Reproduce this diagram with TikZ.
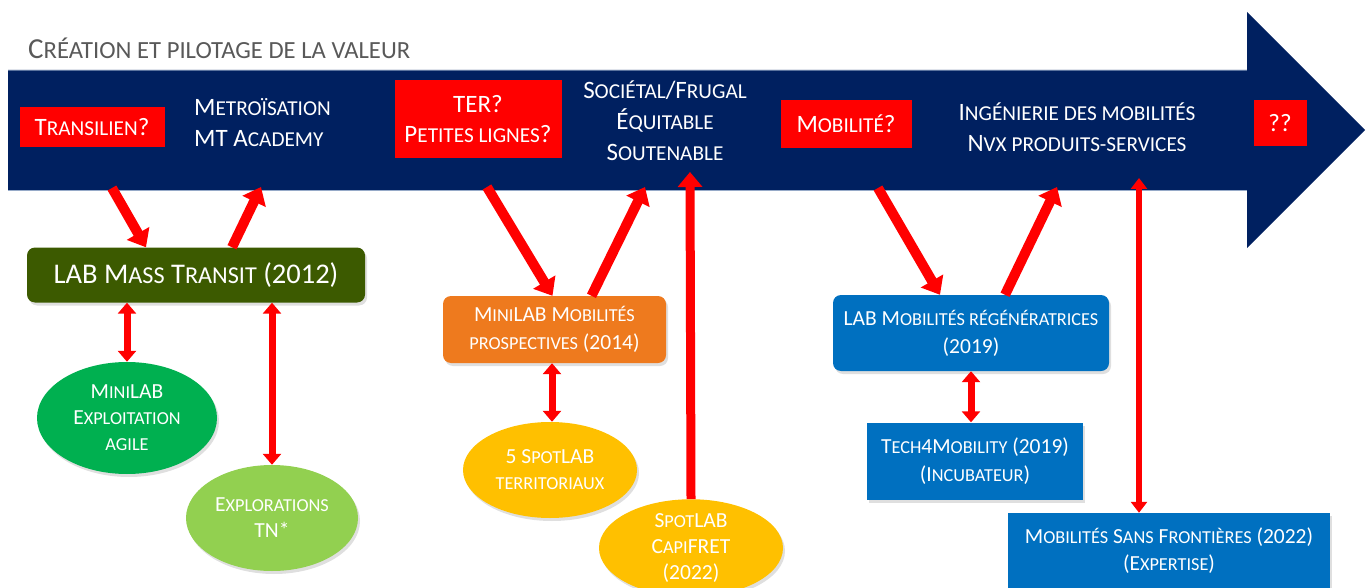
\documentclass[tikz,border=0pt]{standalone}
\usepackage{fontspec}
\setmainfont{Carlito}
\newfontfamily\scf{Carlito}[Scale=0.85]
\newcommand\lc[1]{{\scf\MakeUppercase{#1}}}
\newcommand\fsz[2]{\fontsize{#1}{#2}\selectfont}
\usetikzlibrary{arrows.meta,shapes.geometric,calc,shadows}
\definecolor{navy}{RGB}{0,32,96}
\definecolor{redc}{RGB}{255,0,0}
\definecolor{darkgreen}{RGB}{60,90,0}
\definecolor{midgreen}{RGB}{0,176,80}
\definecolor{lightgreen}{RGB}{146,208,80}
\definecolor{orangec}{RGB}{238,122,30}
\definecolor{yellowc}{RGB}{255,192,0}
\definecolor{bluec}{RGB}{0,112,192}
\definecolor{titlegray}{RGB}{89,89,89}
\definecolor{edgeblue}{RGB}{150,170,200}
\tikzset{
  shd/.style={drop shadow={opacity=0.25,shadow xshift=2pt,shadow yshift=-3pt}},
  redbox/.style={fill=redc,text=white,inner sep=0pt,align=center,font=\fsz{25}{30}},
  wtext/.style={text=white,inner sep=0pt,font=\fsz{25}{31}},
  labbox/.style={rounded corners=8pt,text=white,inner sep=0pt,align=center,shd},
  sqbox/.style={text=white,inner sep=0pt,align=center,shd},
  ell/.style={ellipse,inner sep=0pt,align=center,text=white,font=\fsz{21.5}{26}},
  bigarr/.style={draw=redc,line width=10pt,-{Triangle[width=25pt,length=16pt]}},
  vertarr/.style={draw=redc,line width=9pt,-{Triangle[width=24pt,length=15pt]}},
  dblarr/.style={draw=redc,line width=7pt,{Triangle[width=18pt,length=11pt]}-{Triangle[width=18pt,length=11pt]}},
  longdbl/.style={draw=redc,line width=6pt,{Triangle[width=16pt,length=11pt]}-{Triangle[width=16pt,length=11pt]}}
}
\begin{document}
\begin{tikzpicture}[x=1pt,y=-1pt]
\useasboundingbox (0,0) rectangle (1370,588);
% title
\node[anchor=west,text=titlegray,inner sep=0pt,font=\fsz{29}{32}] (title) at (28,48) {C\lc{réation et pilotage de la valeur}};
% main arrow
\fill[navy] (8,70) -- (1247,70) -- (1247,12) -- (1365,130) -- (1247,248) -- (1247,190) -- (8,190) -- cycle;
\draw[edgeblue,line width=0.8pt] (8,190) -- (1247,190);
\draw[edgeblue!60!navy,line width=0.8pt] (8,70) -- (1247,70);
% anchors on the arrow body
\coordinate (a1) at (112,188);
\coordinate (a2) at (261,187);
\coordinate (a3) at (487,187);
\coordinate (a4) at (645,187);
\coordinate (a5) at (690,172);
\coordinate (a6) at (878,188);
\coordinate (a7) at (1057,187);
\coordinate (a8) at (1139,178);
% red boxes
\node[redbox,minimum width=145pt,minimum height=40pt] (transilien) at (92,127) {T\lc{ransilien}?};
\node[redbox,minimum width=167pt,minimum height=78pt] (ter) at (478,119) {TER?\\P\lc{etites lignes}?};
\node[redbox,minimum width=131pt,minimum height=48pt] (mobilite) at (846,124) {M\lc{obilité}?};
\node[redbox,minimum width=53pt,minimum height=46pt] (qq) at (1280,123) {??};
% white texts
\node[wtext,anchor=west,align=left] (metro) at (194,123) {M\lc{etroïsation}\\MT A\lc{cademy}};
\node[wtext,align=center] (societal) at (665,121) {S\lc{ociétal}/F\lc{rugal}\\É\lc{quitable}\\S\lc{outenable}};
\node[wtext,align=center] (inge) at (1077,127) {I\lc{ngénierie des mobilités}\\N\lc{vx produits-services}};
% lab boxes
\node[labbox,fill=darkgreen,minimum width=338pt,minimum height=55pt,font=\fsz{28.5}{32}] (labmt) at (196,275) {LAB M\lc{ass} T\lc{ransit} (2012)};
\node[labbox,fill=orangec,minimum width=223pt,minimum height=67pt,font=\fsz{21.5}{28}] (minimob) at (554.5,329.5) {M\lc{ini}LAB M\lc{obilités}\\\lc{prospectives} (2014)};
\node[labbox,fill=bluec,minimum width=276pt,minimum height=76pt,font=\fsz{21.5}{28}] (labreg) at (971,333) {LAB M\lc{obilités régénératrices}\\(2019)};
\node[sqbox,fill=bluec,minimum width=216pt,minimum height=77pt,font=\fsz{21.5}{28}] (tech) at (975,461) {T\lc{ech}4M\lc{obility} (2019)\\(I\lc{ncubateur})};
\node[sqbox,fill=bluec,minimum width=322pt,minimum height=76pt,font=\fsz{21.5}{27}] (msf) at (1169,551) {M\lc{obilités} S\lc{ans} F\lc{rontières} (2022)\\(E\lc{xpertise})};
% ellipses
\node[ell,fill=midgreen,minimum width=180pt,minimum height=112pt,shd] (e1) at (127,418) {M\lc{ini}LAB\\E\lc{xploitation}\\\lc{agile}};
\node[ell,fill=lightgreen,minimum width=172pt,minimum height=106pt,shd] (e2) at (272,518) {E\lc{xplorations}\\TN*};
\node[ell,fill=yellowc,minimum width=174pt,minimum height=96pt,shd] (e3) at (550,470) {5 S\lc{pot}LAB\\\lc{territoriaux}};
\node[ell,fill=yellowc,minimum width=184pt,minimum height=92pt,shd] (e4) at (691,548) {S\lc{pot}LAB\\C\lc{api}FRET\\(2022)};
% connectors
\draw[bigarr] (a1) -- ([xshift=-50pt]labmt.north);
\draw[bigarr] ([xshift=36pt]labmt.north) -- (a2);
\draw[bigarr] (a3) -- ([xshift=-2pt]minimob.north);
\draw[bigarr] ([xshift=37pt]minimob.north) -- (a4);
\draw[vertarr] (e4.north) -- (a5);
\draw[bigarr] (a6) -- ([xshift=-31pt]labreg.north);
\draw[bigarr] ([xshift=34pt]labreg.north) -- (a7);
\draw[longdbl] (a8) -- (a8 |- msf.north);
\draw[dblarr] (e1.north |- labmt.south) -- (e1.north);
\draw[dblarr] (e2.north |- labmt.south) -- (e2.north);
\draw[dblarr] ([xshift=2pt]e3.north |- minimob.south) -- ([xshift=2pt]e3.north);
\draw[dblarr] (labreg.south) -- (labreg.south |- tech.north);
\end{tikzpicture}
\end{document}
